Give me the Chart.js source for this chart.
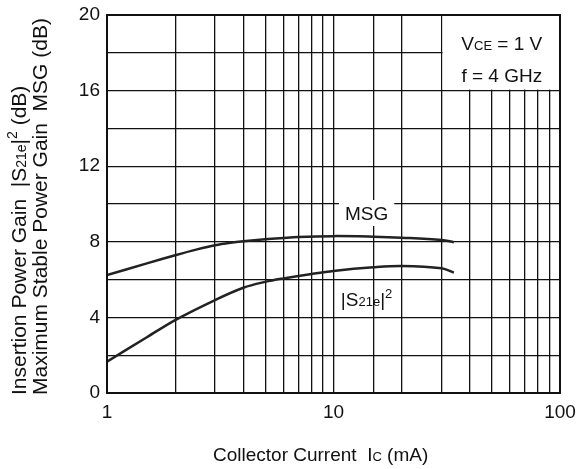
<!DOCTYPE html>
<html>
<head>
<meta charset="utf-8">
<script src="https://cdn.jsdelivr.net/npm/chart.js@4/dist/chart.umd.min.js"></script>
<style>
  html, body { margin: 0; padding: 0; background: #fff; }
</style>
</head>
<body>
<canvas id="gainChart" width="578" height="469"></canvas>
<script>
// Collector current (mA) vs gain (dB)
const msgCurrent = [1, 1.5, 2, 2.5, 3, 3.5, 4, 5, 7, 10, 15, 20, 30, 34];
const msgGain    = [6.24, 6.86, 7.29, 7.6, 7.82, 7.95, 8.03, 8.13, 8.25, 8.3, 8.27, 8.22, 8.1, 7.98];
const s21Current = [1, 1.5, 2, 3, 4, 5, 6, 8, 10, 15, 20, 30, 34];
const s21Gain    = [1.66, 2.95, 3.86, 4.92, 5.57, 5.88, 6.06, 6.3, 6.46, 6.65, 6.72, 6.6, 6.37];

const xTickLabels = [1, 10, 100];
const yTickLabels = [0, 4, 8, 12, 16, 20];

const FONT = '"Liberation Sans", Arial, Helvetica, sans-serif';
const INK = '#111';

const toPoints = (xs, ys) => xs.map((x, i) => ({ x: x, y: ys[i] }));

// draw a run of text pieces [text, size, dy] starting at x (or centered)
function drawParts(ctx, parts, x, y, align) {
  let w = 0;
  parts.forEach(p => {
    ctx.font = p[1] + 'px ' + FONT;
    w += ctx.measureText(p[0]).width;
  });
  let cx = align === 'center' ? x - w / 2 : x;
  ctx.textAlign = 'left';
  ctx.textBaseline = 'alphabetic';
  parts.forEach(p => {
    ctx.font = p[1] + 'px ' + FONT;
    ctx.fillText(p[0], cx, y + (p[2] || 0));
    cx += ctx.measureText(p[0]).width;
  });
  return w;
}

const overlay = {
  id: 'overlay',
  afterDraw(chart) {
    const { ctx, chartArea: a, scales: { x, y } } = chart;
    ctx.save();
    ctx.fillStyle = '#fff';

    // condition box in the top right corner
    const bx0 = x.getPixelForValue(30), bx1 = x.getPixelForValue(100);
    const by0 = y.getPixelForValue(20), by1 = y.getPixelForValue(16);
    ctx.fillRect(bx0 + 1, by0 + 1, bx1 - bx0 - 2, by1 - by0 - 2);

    // MSG label sits on the 10 dB line
    const mx = x.getPixelForValue(14), my = y.getPixelForValue(10);
    ctx.font = '19px ' + FONT;
    const mw = ctx.measureText('MSG').width;
    ctx.fillRect(mx - mw / 2 - 6, my - 4, mw + 12, 26);

    ctx.fillStyle = INK;
    drawParts(ctx, [['MSG', 19]], mx, my + 16, 'center');

    const sx = x.getPixelForValue(14), sy = y.getPixelForValue(5);
    drawParts(ctx, [['|S', 19], ['21e', 13], ['|', 19], ['2', 13, -8]], sx, sy + 7, 'center');

    const cx = (bx0 + bx1) / 2 + 1;
    drawParts(ctx, [['V', 19], ['CE', 13], [' = 1 V', 19]], cx, by0 + 35, 'center');
    drawParts(ctx, [['f = 4 GHz', 19]], cx, by0 + 67, 'center');

    // axis titles
    drawParts(ctx, [['Collector Current  I', 19], ['C', 13], [' (mA)', 19]], 213, 461, 'left');

    ctx.save();
    ctx.translate(26, 395);
    ctx.rotate(-Math.PI / 2);
    drawParts(ctx, [['Insertion Power Gain  |S', 21], ['21e', 14], ['|', 21], ['2', 14, -9], [' (dB)', 21]], 0, 0, 'left');
    ctx.restore();
    ctx.save();
    ctx.translate(47, 395);
    ctx.rotate(-Math.PI / 2);
    drawParts(ctx, [['Maximum Stable Power Gain  MSG (dB)', 21]], 0, 0, 'left');
    ctx.restore();

    // heavy frame
    ctx.strokeStyle = INK;
    ctx.lineWidth = 2;
    ctx.strokeRect(a.left, a.top, a.right - a.left, a.bottom - a.top);
    ctx.restore();
  }
};

const lineStyle = {
  borderColor: '#222',
  borderWidth: 2.5,
  pointRadius: 0,
  fill: false,
  tension: 0.35
};

new Chart(document.getElementById('gainChart'), {
  type: 'line',
  data: {
    datasets: [
      Object.assign({ label: 'MSG', data: toPoints(msgCurrent, msgGain) }, lineStyle),
      Object.assign({ label: '|S21e|2', data: toPoints(s21Current, s21Gain) }, lineStyle)
    ]
  },
  options: {
    responsive: false,
    animation: false,
    layout: { padding: { left: 0, top: 15, right: 18, bottom: 0 } },
    plugins: {
      legend: { display: false },
      tooltip: { enabled: false }
    },
    scales: {
      x: {
        type: 'logarithmic',
        min: 1,
        max: 100,
        grid: { color: INK, lineWidth: 1.3, drawTicks: false },
        border: { display: false },
        ticks: {
          color: INK,
          font: { family: FONT, size: 19 },
          padding: 8,
          maxRotation: 0,
          autoSkip: false,
          callback: v => xTickLabels.includes(v) ? String(v) : ''
        },
        afterFit(s) { s.height = 469 - 393; s.paddingLeft = 0; s.paddingRight = 0; }
      },
      y: {
        min: 0,
        max: 20,
        grid: { color: INK, lineWidth: 1.3, drawTicks: false },
        border: { display: false },
        ticks: {
          stepSize: 2,
          color: INK,
          font: { family: FONT, size: 19 },
          padding: 7,
          autoSkip: false,
          callback: v => yTickLabels.includes(v) ? String(v) : ''
        },
        afterFit(s) { s.width = 107; s.paddingTop = 0; s.paddingBottom = 0; }
      }
    }
  },
  plugins: [overlay]
});
</script>
</body>
</html>
